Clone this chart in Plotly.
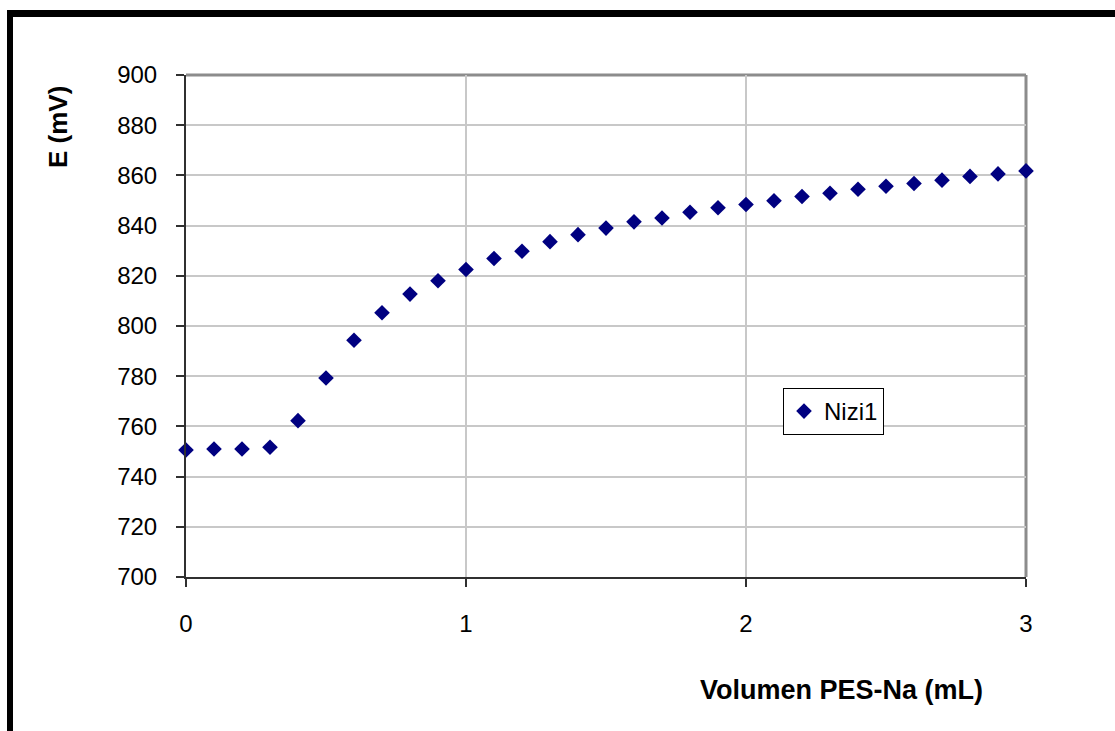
import plotly.graph_objects as go

volumen = [0.0, 0.1, 0.2, 0.3, 0.4, 0.5, 0.6, 0.7, 0.8, 0.9, 1.0,
           1.1, 1.2, 1.3, 1.4, 1.5, 1.6, 1.7, 1.8, 1.9, 2.0,
           2.1, 2.2, 2.3, 2.4, 2.5, 2.6, 2.7, 2.8, 2.9, 3.0]
e_mv = [750.6, 751.0, 751.0, 751.7, 762.3, 779.3, 794.3, 805.3, 812.7, 818.0, 822.5,
        826.9, 829.8, 833.6, 836.4, 839.0, 841.5, 843.0, 845.3, 847.1, 848.4,
        849.9, 851.6, 852.9, 854.5, 855.7, 856.8, 858.1, 859.6, 860.6, 861.8]
series_name = "Nizi1"
x_title = "Volumen PES-Na (mL)"
y_title = "E (mV)"
x_ticks = [0, 1, 2, 3]
y_ticks = list(range(700, 901, 20))

W, H = 1115, 731
L, R, T, B = 186, 1026, 75, 577  # plot area pixel bounds


def px(xp):
    return (xp - L) / (R - L)


def py(yp):
    return (B - yp) / (B - T)


FONT = "Arial, Liberation Sans, sans-serif"

fig = go.Figure()
fig.add_trace(go.Scatter(
    x=volumen, y=e_mv, mode="markers", name=series_name, cliponaxis=False,
    marker=dict(symbol="diamond", size=12, color="#000080",
                line=dict(width=0)),
))

fig.update_layout(
    width=W, height=H,
    margin=dict(l=L, r=W - R, t=T, b=H - B, pad=0),
    paper_bgcolor="white", plot_bgcolor="white",
    font=dict(family=FONT, size=24, color="black"),
    showlegend=True,
    legend=dict(x=px(783), y=py(388), xanchor="left", yanchor="top",
                bordercolor="black", borderwidth=1, bgcolor="white",
                font=dict(size=24, family=FONT, color="black"),
                itemwidth=30),
    xaxis=dict(range=[0, 3], tickvals=x_ticks, ticktext=[str(v) for v in x_ticks],
               showgrid=True, gridcolor="#c8c8c8", gridwidth=1.5,
               showline=True, linecolor="#303030", linewidth=2,
               ticks="outside", ticklen=8, tickwidth=2, tickcolor="#303030",
               zeroline=False, ticklabelstandoff=16,
               tickfont=dict(size=24, family=FONT)),
    yaxis=dict(range=[700, 900], tickvals=y_ticks, ticktext=[str(v) for v in y_ticks],
               showgrid=True, gridcolor="#c8c8c8", gridwidth=1.5,
               showline=True, linecolor="#303030", linewidth=2,
               ticks="outside", ticklen=8, tickwidth=2, tickcolor="#303030",
               zeroline=False, ticklabelstandoff=14,
               tickfont=dict(size=24, family=FONT)),
)

shapes = [
    # gray top and right border of plot area
    dict(type="line", xref="paper", yref="paper", x0=0, x1=1, y0=1, y1=1,
         line=dict(color="#8c8c8c", width=3), layer="below"),
    dict(type="line", xref="paper", yref="paper", x0=1, x1=1, y0=0, y1=1,
         line=dict(color="#8c8c8c", width=3), layer="below"),
    # black outer frame (top and left)
    dict(type="rect", xref="paper", yref="paper", x0=px(7), x1=px(1116), y0=py(10), y1=py(17),
         fillcolor="black", line=dict(width=0), layer="above"),
    dict(type="rect", xref="paper", yref="paper", x0=px(7), x1=px(13), y0=py(10), y1=py(732),
         fillcolor="black", line=dict(width=0), layer="above"),
]
fig.update_layout(shapes=shapes)

fig.add_annotation(text="<b>" + y_title + "</b>", xref="paper", yref="paper",
                   x=px(58), y=py(127), xanchor="center", yanchor="middle",
                   textangle=-90, showarrow=False,
                   font=dict(size=26, family=FONT, color="black"))
fig.add_annotation(text="<b>" + x_title + "</b>", xref="paper", yref="paper",
                   x=px(841), y=py(690), xanchor="center", yanchor="middle",
                   showarrow=False,
                   font=dict(size=27, family=FONT, color="black"))

fig.write_html("out.html")
